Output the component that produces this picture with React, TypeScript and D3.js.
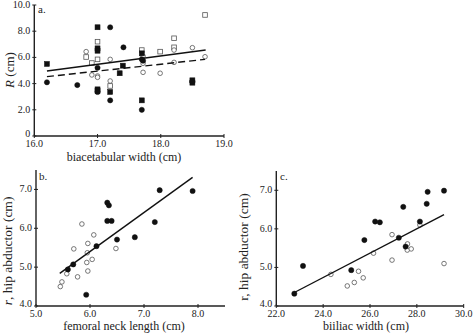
import React from "react";
import * as d3 from "d3";

// Panel a data: [biacetabular width, R]
const aFilledSquares: [number, number][] = [
  [16.2, 5.5], [17.0, 8.3], [17.0, 6.69], [17.0, 6.51], [17.0, 3.56], [17.0, 3.43],
  [17.2, 3.36], [17.35, 4.79], [17.4, 5.37], [17.7, 6.31], [17.7, 2.72], [18.5, 4.25], [18.5, 4.07],
];
const aFilledCircles: [number, number][] = [
  [16.2, 4.1], [16.68, 3.89], [17.0, 5.21], [17.0, 3.36], [17.2, 8.3], [17.2, 2.72], [17.41, 6.77],
  [17.7, 5.85], [17.72, 5.75], [17.7, 2.0], [18.5, 4.15],
];
const aOpenSquares: [number, number][] = [
  [16.82, 6.03], [16.91, 5.57], [17.0, 7.2], [17.0, 5.85], [17.2, 3.82], [17.7, 6.56],
  [17.99, 6.44], [18.21, 7.46], [18.21, 6.77], [18.7, 9.24],
];
const aOpenCircles: [number, number][] = [
  [16.82, 6.44], [16.91, 4.66], [17.0, 4.58], [17.0, 4.48], [17.2, 5.85], [17.2, 4.2],
  [17.72, 5.55], [17.72, 6.1], [17.72, 4.86], [17.99, 4.79], [18.21, 6.56], [18.21, 5.62],
  [18.5, 6.74], [18.7, 6.05],
];
const aSolidLine: [number, number][] = [[16.2, 4.96], [18.71, 6.56]];
const aDashedLine: [number, number][] = [[16.2, 4.53], [18.7, 5.85]];
const aXTicks = [16, 17, 18, 19];
const aXTickLabels = ["16.0", "17.0", "18.0", "19.0"];
const aYTicks = [0, 2, 4, 6, 8, 10];
const aYTickLabels = ["0", "2.0", "4.0", "6.0", "8.0", "10.0"];

// Panel b data: [femoral neck length, r]
const bFilled: [number, number][] = [
  [5.59, 4.94], [5.69, 5.07], [5.93, 4.29], [6.12, 5.54], [6.32, 6.66], [6.35, 6.59],
  [6.32, 6.19], [6.4, 6.19], [6.5, 5.71], [6.83, 5.77], [7.2, 6.16], [7.29, 6.98], [7.9, 6.96],
];
const bOpen: [number, number][] = [
  [5.45, 4.5], [5.48, 4.62], [5.57, 4.83], [5.7, 5.47], [5.77, 4.75], [5.85, 6.11],
  [5.94, 5.12], [5.95, 5.37], [5.96, 5.61], [5.96, 4.9], [6.04, 5.2], [6.07, 5.83], [6.48, 5.48],
];
const bLine: [number, number][] = [[5.44, 4.84], [7.9, 7.31]];
const bXTicks = [5, 6, 7, 8];
const bXTickLabels = ["5.0", "6.0", "7.0", "8.0"];
const bYTicks = [4, 5, 6, 7];
const bYTickLabels = ["4.0", "5.0", "6.0", "7.0"];

// Panel c data: [biiliac width, r]
const cFilled: [number, number][] = [
  [22.77, 4.32], [23.14, 5.04], [25.2, 4.93], [25.76, 5.71], [26.22, 6.19], [26.42, 6.17],
  [27.23, 5.77], [27.42, 6.57], [27.52, 5.54], [28.13, 6.19], [28.42, 6.65], [28.46, 6.96], [29.16, 6.99],
];
const cOpen: [number, number][] = [
  [24.33, 4.82], [25.03, 4.52], [25.33, 4.61], [25.51, 4.9], [25.71, 4.73], [26.15, 5.37],
  [26.94, 5.85], [26.94, 5.19], [27.6, 5.61], [27.59, 5.45], [27.76, 5.48], [28.13, 6.1], [29.16, 5.1],
];
const cLine: [number, number][] = [[22.77, 4.35], [29.16, 6.37]];
const cXTicks = [22, 24, 26, 28, 30];
const cXTickLabels = ["22.0", "24.0", "26.0", "28.0", "30.0"];
const cYTicks = [4, 5, 6, 7];
const cYTickLabels = ["4.0", "5.0", "6.0", "7.0"];

const FONT = "Liberation Serif, Times New Roman, DejaVu Serif, serif";
const INK = "#222";

type Scale = d3.ScaleLinear<number, number>;

function Axes({ x, y, xTicks, xLabels, yTicks, yLabels }: {
  x: Scale; y: Scale; xTicks: number[]; xLabels: string[]; yTicks: number[]; yLabels: string[];
}) {
  const [x0, x1] = x.range();
  const [y0, y1] = y.range();
  return (
    <g>
      <line x1={x0} x2={x1} y1={y0} y2={y0} stroke={INK} strokeWidth={1.4} />
      <line x1={x0} x2={x0} y1={y0} y2={y1} stroke={INK} strokeWidth={1.4} />
      {xTicks.map((t, i) => (
        <g key={"x" + i}>
          <line x1={x(t)} x2={x(t)} y1={y0 - 2} y2={y0 + 2} stroke={INK} strokeWidth={1} />
          <text x={x(t)} y={y0 + 11} textAnchor="middle" fontSize={10} style={{ fontFamily: FONT }} fill={INK}>
            {xLabels[i]}
          </text>
        </g>
      ))}
      {yTicks.map((t, i) => (
        <g key={"y" + i}>
          <line x1={x0 - 2} x2={x0 + 2} y1={y(t)} y2={y(t)} stroke={INK} strokeWidth={1} />
          <text x={x0 - 4} y={y(t) + (i === 0 ? 1 : 3)} textAnchor="end" fontSize={10} style={{ fontFamily: FONT }} fill={INK}>
            {yLabels[i]}
          </text>
        </g>
      ))}
    </g>
  );
}

function Circles({ data, x, y, filled }: { data: [number, number][]; x: Scale; y: Scale; filled: boolean }) {
  return (
    <g>
      {data.map((d, i) => (
        <circle key={i} cx={x(d[0])} cy={y(d[1])} r={filled ? 2.6 : 2.3}
          fill={filled ? "#111" : "#fff"} stroke={filled ? "#111" : "#555"} strokeWidth={filled ? 0.5 : 0.8} />
      ))}
    </g>
  );
}

function Squares({ data, x, y, filled }: { data: [number, number][]; x: Scale; y: Scale; filled: boolean }) {
  const s = filled ? 5 : 4.6;
  return (
    <g>
      {data.map((d, i) => (
        <rect key={i} x={x(d[0]) - s / 2} y={y(d[1]) - s / 2} width={s} height={s}
          fill={filled ? "#111" : "#fff"} stroke={filled ? "#111" : "#555"} strokeWidth={filled ? 0.5 : 0.8} />
      ))}
    </g>
  );
}

export default function App() {
  const ax = d3.scaleLinear().domain([16, 19]).range([34.3, 224]);
  const ay = d3.scaleLinear().domain([0, 10]).range([136, 5]);
  const bx = d3.scaleLinear().domain([5, 8.5]).range([36, 225]);
  const by = d3.scaleLinear().domain([4, 7.5]).range([306, 170]);
  const cx = d3.scaleLinear().domain([22, 30]).range([276.3, 463.7]);
  const cy = d3.scaleLinear().domain([4, 7.5]).range([306, 171]);

  const lineA = d3.line<[number, number]>().x(d => ax(d[0])).y(d => ay(d[1]));
  const lineB = d3.line<[number, number]>().x(d => bx(d[0])).y(d => by(d[1]));
  const lineC = d3.line<[number, number]>().x(d => cx(d[0])).y(d => cy(d[1]));

  const t = (extra: React.CSSProperties = {}) => ({ fontFamily: FONT, ...extra });

  return (
    <div style={{ position: "absolute", left: 0, top: 0 }}>
      <svg width={474} height={335} style={{ display: "block", background: "#fff" }}>
        {/* Panel a */}
        <Axes x={ax} y={ay} xTicks={aXTicks} xLabels={aXTickLabels} yTicks={aYTicks} yLabels={aYTickLabels} />
        <text x={38} y={13} fontSize={11} style={t()} fill={INK}>a.</text>
        <Squares data={aOpenSquares} x={ax} y={ay} filled={false} />
        <Circles data={aOpenCircles} x={ax} y={ay} filled={false} />
        <Squares data={aFilledSquares} x={ax} y={ay} filled={true} />
        <Circles data={aFilledCircles} x={ax} y={ay} filled={true} />
        <path d={lineA(aSolidLine) || ""} stroke="#111" strokeWidth={1.4} fill="none" />
        <path d={lineA(aDashedLine) || ""} stroke="#111" strokeWidth={1.4} fill="none" strokeDasharray="7,4" />
        <text x={124} y={161} textAnchor="middle" fontSize={12} style={t()} fill={INK}>biacetabular width (cm)</text>
        <text transform="translate(14,70) rotate(-90)" textAnchor="middle" fontSize={13} style={t()} fill={INK}>
          <tspan fontStyle="italic">R</tspan> (cm)
        </text>

        {/* Panel b */}
        <Axes x={bx} y={by} xTicks={bXTicks} xLabels={bXTickLabels} yTicks={bYTicks} yLabels={bYTickLabels} />
        <text x={39} y={180} fontSize={11} style={t()} fill={INK}>b.</text>
        <Circles data={bOpen} x={bx} y={by} filled={false} />
        <Circles data={bFilled} x={bx} y={by} filled={true} />
        <path d={lineB(bLine) || ""} stroke="#111" strokeWidth={1.4} fill="none" />
        <text x={124} y={330} textAnchor="middle" fontSize={12} style={t()} fill={INK}>femoral neck length (cm)</text>
        <text transform="translate(12,251) rotate(-90)" textAnchor="middle" fontSize={13.5} style={t()} fill={INK}>
          <tspan fontStyle="italic">r</tspan>, hip abductor (cm)
        </text>

        {/* Panel c */}
        <Axes x={cx} y={cy} xTicks={cXTicks} xLabels={cXTickLabels} yTicks={cYTicks} yLabels={cYTickLabels} />
        <text x={280} y={180} fontSize={11} style={t()} fill={INK}>c.</text>
        <Circles data={cOpen} x={cx} y={cy} filled={false} />
        <Circles data={cFilled} x={cx} y={cy} filled={true} />
        <path d={lineC(cLine) || ""} stroke="#111" strokeWidth={1.4} fill="none" />
        <text x={366} y={330} textAnchor="middle" fontSize={12} style={t()} fill={INK}>biiliac width (cm)</text>
        <text transform="translate(248,247) rotate(-90)" textAnchor="middle" fontSize={13.5} style={t()} fill={INK}>
          r, hip abductor (cm)
        </text>
      </svg>
    </div>
  );
}
